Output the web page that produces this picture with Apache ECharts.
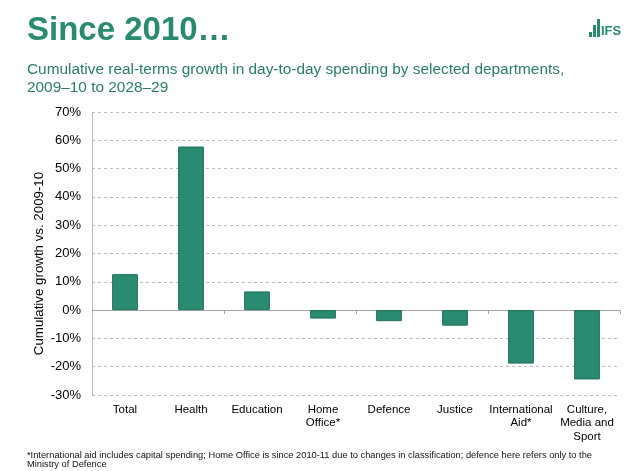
<!DOCTYPE html>
<html>
<head>
<meta charset="utf-8">
<script src="https://cdn.jsdelivr.net/npm/echarts@6/dist/echarts.min.js"></script>
<style>
html,body{margin:0;padding:0;background:#fff;}
#chart{width:634px;height:471px;}
</style>
</head>
<body>
<div id="chart"></div>
<script>
var categories = ['Total', 'Health', 'Education', 'Home\nOffice*', 'Defence', 'Justice', 'International\nAid*', 'Culture,\nMedia and\nSport'];
var growth = [12.7, 57.8, 6.6, -3.0, -3.9, -5.5, -18.9, -24.5];
var yTicks = {min: -30, max: 70, interval: 10};

var titleText = 'Since 2010…';
var subtitleText = 'Cumulative real-terms growth in day-to-day spending by selected departments,\n2009–10 to 2028–29';
var yAxisTitle = 'Cumulative growth vs. 2009-10';
var footnoteText = '*International aid includes capital spending; Home Office is since 2010-11 due to changes in classification; defence here refers only to the\nMinistry of Defence';

var green = '#2a8a6e';
var font = 'Arial, "Liberation Sans", sans-serif';

var chart = echarts.init(document.getElementById('chart'), null, {renderer: 'canvas'});
chart.setOption({
  animation: false,
  backgroundColor: '#fff',
  textStyle: {fontFamily: font},
  title: [
    {text: titleText, left: 27, top: 12, padding: 0,
     textStyle: {fontFamily: font, fontSize: 33, fontWeight: 'bold', color: green, lineHeight: 37}},
    {text: subtitleText, left: 27, top: 61, padding: 0,
     textStyle: {fontFamily: font, fontSize: 15.4, fontWeight: 'normal', color: '#2b7d66', lineHeight: 18}},
    {text: footnoteText, left: 27, top: 451, padding: 0,
     textStyle: {fontFamily: font, fontSize: 9.3, fontWeight: 'normal', color: '#111', lineHeight: 9}}
  ],
  graphic: [
    {type: 'rect', shape: {x: 589, y: 32, width: 3, height: 5}, style: {fill: green}},
    {type: 'rect', shape: {x: 593, y: 25, width: 3, height: 12}, style: {fill: green}},
    {type: 'rect', shape: {x: 597, y: 19, width: 3, height: 18}, style: {fill: green}},
    {type: 'text', x: 601, y: 38, style: {text: 'IFS', fill: green, font: 'bold 13px "Liberation Sans Narrow", Arial, sans-serif', textVerticalAlign: 'bottom'}}
  ],
  grid: {left: 92, right: 14, top: 112, bottom: 76, containLabel: false},
  xAxis: [
    {
      type: 'category', data: categories, position: 'bottom',
      axisLine: {show: false, onZero: false},
      axisTick: {show: false},
      axisLabel: {interval: 0, margin: 8, fontFamily: font, fontSize: 11.5, color: '#000', lineHeight: 13.5},
      splitLine: {show: false}
    },
    {
      type: 'category', data: categories, position: 'bottom',
      axisLine: {show: true, onZero: true, lineStyle: {color: '#a6a6a6', width: 1}},
      axisTick: {show: true, length: 4, lineStyle: {color: '#a6a6a6'}},
      axisLabel: {show: false},
      splitLine: {show: false}
    }
  ],
  yAxis: {
    type: 'value', min: yTicks.min, max: yTicks.max, interval: yTicks.interval,
    name: yAxisTitle, nameLocation: 'middle', nameGap: 46, nameMoveOverlap: false,
    nameTextStyle: {fontFamily: font, fontSize: 13.3, color: '#000', padding: [0, 20, 0, 0]},
    axisLine: {show: true, lineStyle: {color: '#bfbfbf'}},
    axisTick: {show: false},
    axisLabel: {formatter: '{value}%', margin: 11, fontFamily: font, fontSize: 13, color: '#000'},
    splitLine: {show: true, lineStyle: {type: [3, 3], color: '#bdbdbd', width: 1}}
  },
  series: [{
    type: 'bar', data: growth, xAxisIndex: 0, barWidth: '39%',
    itemStyle: {color: '#2b8b71', borderColor: '#1f6e59', borderWidth: 1}
  }]
});
</script>
</body>
</html>
